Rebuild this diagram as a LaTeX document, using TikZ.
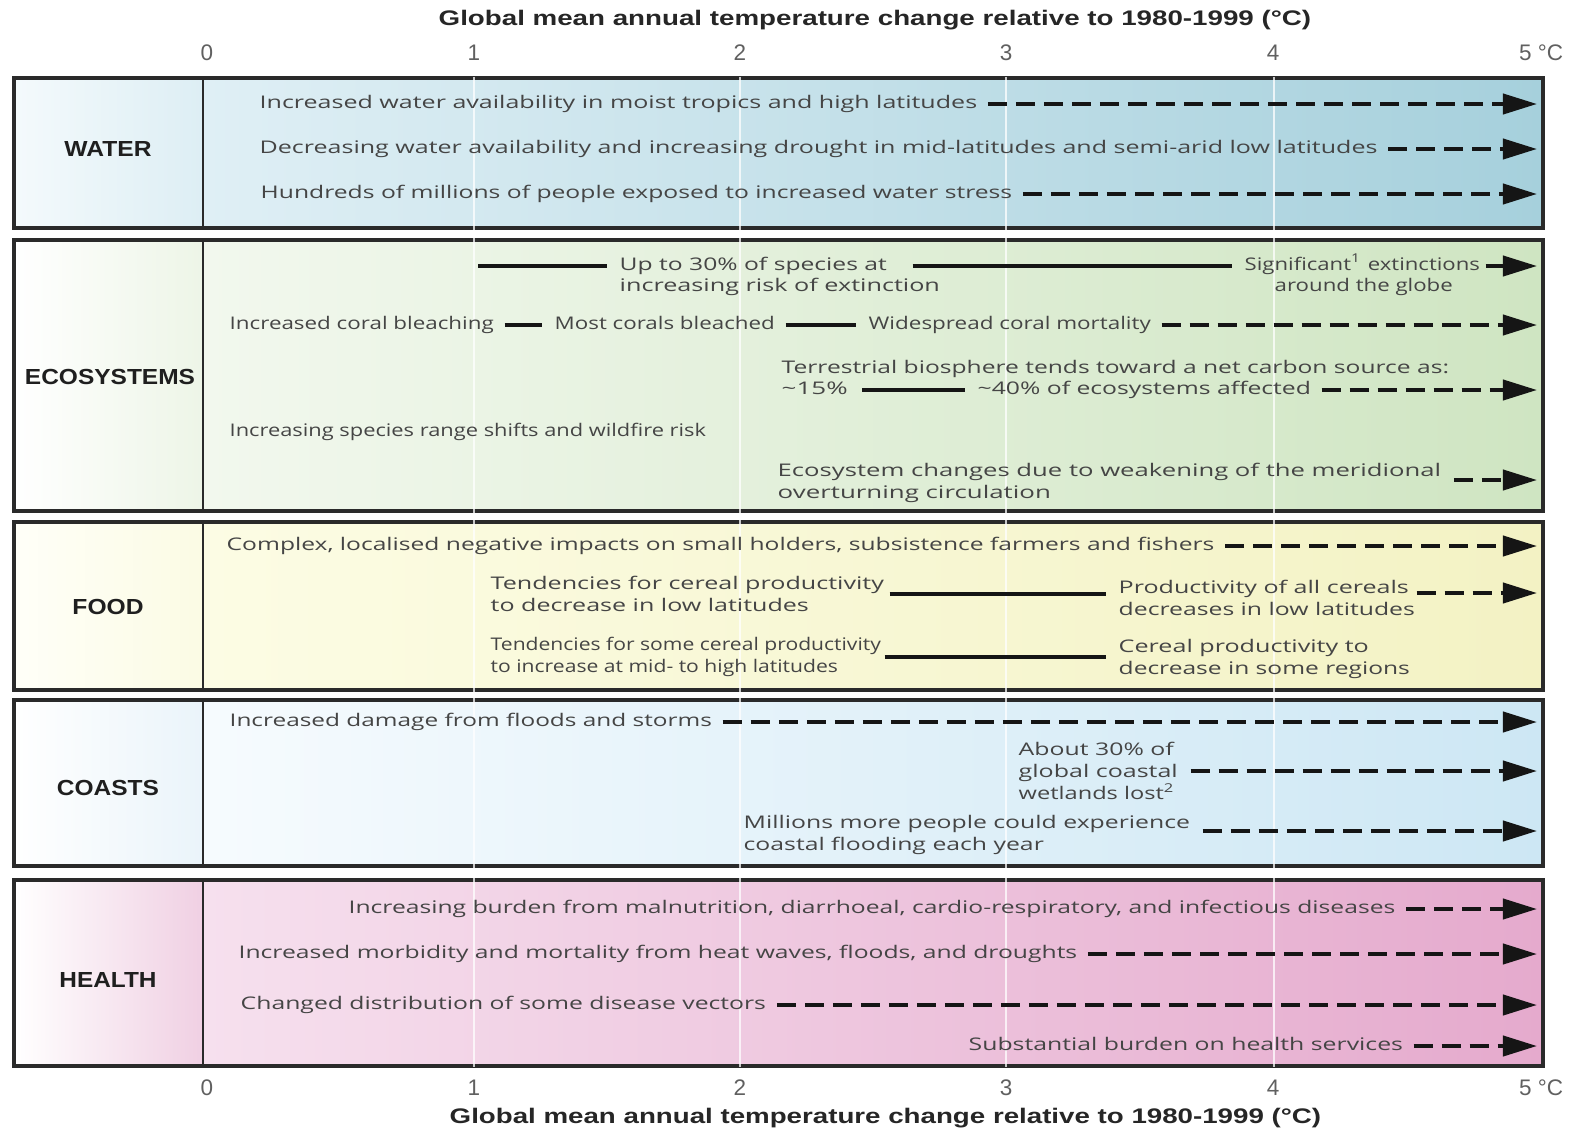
\documentclass[tikz,border=0pt]{standalone}
\usepackage{fontspec}
\usepackage{graphicx}
\setmainfont{Open Sans}
\newfontfamily\labfont{Liberation Sans}
\usetikzlibrary{arrows.meta}
\newcommand\fitw[2]{\resizebox{#1cm}{\height}{#2}}
\newcommand\txtfont{\fontsize{4.95pt}{6.26pt}\selectfont}
\newcommand\tickfont{\labfont\fontsize{6.4pt}{7.4pt}\selectfont}
\newcommand\catfont{\labfont\bfseries\fontsize{6.2pt}{7pt}\selectfont}
\definecolor{txtc}{HTML}{454545}
\definecolor{tickc}{HTML}{606060}
\definecolor{linec}{HTML}{151515}
\definecolor{borderc}{HTML}{2a2a2a}
\definecolor{wA}{HTML}{F4FAFC}\definecolor{wB}{HTML}{DDEEF4}\definecolor{wC}{HTML}{DFEFF5}\definecolor{wD}{HTML}{A6D0DC}
\definecolor{eA}{HTML}{FFFFFF}\definecolor{eB}{HTML}{EDF5E7}\definecolor{eC}{HTML}{F2F8EE}\definecolor{eD}{HTML}{CFE5C2}
\definecolor{fA}{HTML}{FFFFF8}\definecolor{fB}{HTML}{FBFBE4}\definecolor{fC}{HTML}{FCFCE4}\definecolor{fD}{HTML}{F3F2C4}
\definecolor{cA}{HTML}{FFFFFF}\definecolor{cB}{HTML}{EAF4FA}\definecolor{cC}{HTML}{F6FBFE}\definecolor{cD}{HTML}{CDE7F4}
\definecolor{hA}{HTML}{FFFFFF}\definecolor{hB}{HTML}{F0D0E3}\definecolor{hC}{HTML}{F6E0EE}\definecolor{hD}{HTML}{E5AACD}
\begin{document}
\begin{tikzpicture}[x=0.01cm,y=-0.01cm,
  tl/.style={font=\txtfont, text=txtc, inner sep=0pt, anchor=west, text height=0.115cm, text depth=0.035cm},
  tml/.style={font=\txtfont, text=txtc, inner sep=0pt, anchor=west, align=left},
  cat/.style={font=\catfont, text=black!88, inner sep=0pt, anchor=center},
  tick/.style={font=\tickfont, text=tickc, inner sep=0pt, anchor=center},
  ttl/.style={font=\labfont\bfseries\fontsize{6pt}{7pt}\selectfont, text=black!85, inner sep=0pt, anchor=west},
  dl/.style={draw=linec, line width=0.04cm, dash pattern=on 0.19cm off 0.09cm, shorten <=0.1cm, -{Triangle[length=0.34cm,width=0.2cm]}},
  sl/.style={draw=linec, line width=0.04cm, shorten <=0.1cm, shorten >=0.12cm},
  panel/.style={draw=borderc, line width=0.035cm},
  divl/.style={draw=borderc, line width=0.025cm},
  gridl/.style={draw=white, draw opacity=0.75, line width=0.022cm}
]
\useasboundingbox (0,0) rectangle (1575,1133);
\fill[white] (0,0) rectangle (1575,1133);

% ---------- panels ----------
\shade[left color=wA, right color=wB] (14,78) rectangle (203,228);
\shade[left color=wC, right color=wD] (203,78) rectangle (1543,228);
\draw[panel] (14,78) rectangle (1543,228);
\draw[divl] (203,78) -- (203,228);

\shade[left color=eA, right color=eB] (14,240) rectangle (203,511);
\shade[left color=eC, right color=eD] (203,240) rectangle (1543,511);
\draw[panel] (14,240) rectangle (1543,511);
\draw[divl] (203,240) -- (203,511);

\shade[left color=fA, right color=fB] (14,522) rectangle (203,690);
\shade[left color=fC, right color=fD] (203,522) rectangle (1543,690);
\draw[panel] (14,522) rectangle (1543,690);
\draw[divl] (203,522) -- (203,690);

\shade[left color=cA, right color=cB] (14,700) rectangle (203,866);
\shade[left color=cC, right color=cD] (203,700) rectangle (1543,866);
\draw[panel] (14,700) rectangle (1543,866);
\draw[divl] (203,700) -- (203,866);

\shade[left color=hA, right color=hB] (14,880) rectangle (203,1066);
\shade[left color=hC, right color=hD] (203,880) rectangle (1543,1066);
\draw[panel] (14,880) rectangle (1543,1066);
\draw[divl] (203,880) -- (203,1066);

% white grid lines
\foreach \gx in {474,740,1006,1274} \draw[gridl] (\gx,77) -- (\gx,1067);

% ---------- axes ----------
\node[ttl] (ttop) at (438,20) {\fitw{8.72}{Global mean annual temperature change relative to 1980-1999 (°C)}};
\node[ttl] (tbot) at (449,1118) {\fitw{8.71}{Global mean annual temperature change relative to 1980-1999 (°C)}};
\node[tick] (t0) at (207,53) {0};
\node[tick] (t1) at (474,53) {1};
\node[tick] (t2) at (740,53) {2};
\node[tick] (t3) at (1006,53) {3};
\node[tick] (t4) at (1273,53) {4};
\node[tick] (t5) at (1541,53) {5 °C};
\node[tick] (b0) at (207,1088) {0};
\node[tick] (b1) at (474,1088) {1};
\node[tick] (b2) at (740,1088) {2};
\node[tick] (b3) at (1006,1088) {3};
\node[tick] (b4) at (1273,1088) {4};
\node[tick] (b5) at (1541,1088) {5 °C};

% ---------- category labels ----------
\node[cat] (lwater) at (108,149) {\fitw{0.87}{WATER}};
\node[cat] (leco) at (110,377) {\fitw{1.70}{ECOSYSTEMS}};
\node[cat] (lfood) at (108,607) {\fitw{0.71}{FOOD}};
\node[cat] (lcoast) at (108,788) {\fitw{1.02}{COASTS}};
\node[cat] (lhealth) at (108,980) {\fitw{0.97}{HEALTH}};

\coordinate (tipx) at (1537,0);

% ---------- WATER ----------
\node[tl] (w1) at (259,104) {\fitw{7.17}{Increased water availability in moist tropics and high latitudes}};
\node[tl] (w2) at (259,149) {\fitw{11.17}{Decreasing water availability and increasing drought in mid-latitudes and semi-arid low latitudes}};
\node[tl] (w3) at (260,194) {\fitw{7.51}{Hundreds of millions of people exposed to increased water stress}};
\draw[dl] (w1.east) -- (w1.east -| tipx);
\draw[dl] (w2.east) -- (w2.east -| tipx);
\draw[dl] (w3.east) -- (w3.east -| tipx);

% ---------- ECOSYSTEMS ----------
\coordinate (e1s) at (478,266);
\node[tl] (up1) at (619,266) {\fitw{2.67}{Up to 30\% of species at}};
\node[tl] (up2) at (619,287) {\fitw{3.20}{increasing risk of extinction}};
\node[tl] (sig1) at (1244,266) {\fitw{2.35}{Significant\textsuperscript{1} extinctions}};
\node[tl] (sig2) at (1274,287) {\fitw{1.78}{around the globe}};
\draw[sl, shorten <=0pt] (e1s) -- (up1.west);
\draw[sl, shorten <=0.25cm] (up1.east) -- (sig1.west);
\draw[dl, shorten <=0.05cm] (sig1.east) -- (sig1.east -| tipx);

\node[tl] (cb) at (229,325) {\fitw{2.64}{Increased coral bleaching}};
\node[tl] (mcb) at (554,325) {\fitw{2.20}{Most corals bleached}};
\node[tl] (wcm) at (868,325) {\fitw{2.82}{Widespread coral mortality}};
\draw[sl] (cb.east) -- (mcb.west);
\draw[sl] (mcb.east) -- (wcm.west);
\draw[dl] (wcm.east) -- (wcm.east -| tipx);

\node[tl] (tb) at (781,369) {\fitw{6.67}{Terrestrial biosphere tends toward a net carbon source as:}};
\node[tl] (p15) at (781,390) {\fitw{0.66}{\textasciitilde15\%}};
\node[tl] (p40) at (977,390) {\fitw{3.33}{\textasciitilde40\% of ecosystems affected}};
\draw[sl, shorten <=0.14cm] (p15.east) -- (p40.west);
\draw[dl] (p40.east) -- (p40.east -| tipx);

\node[tl] (sr) at (229,432) {\fitw{4.76}{Increasing species range shifts and wildfire risk}};

\node[tml] (ec) at (777,483) {\fitw{6.63}{Ecosystem changes due to weakening of the meridional}\\\fitw{2.73}{overturning circulation}};
\draw[dl, shorten <=0.12cm] ([yshift=0.03cm]ec.east) -- ([yshift=0.03cm]ec.east -| tipx);

% ---------- FOOD ----------
\node[tl] (f1) at (226,546) {\fitw{9.87}{Complex, localised negative impacts on small holders, subsistence farmers and fishers}};
\draw[dl] (f1.east) -- (f1.east -| tipx);

\node[tml] (f2L) at (490,594) {\fitw{3.93}{Tendencies for cereal productivity}\\\fitw{3.18}{to decrease in low latitudes}};
\node[tml] (f2R) at (1118,598) {\fitw{2.90}{Productivity of all cereals}\\\fitw{2.96}{decreases in low latitudes}};
\draw[sl, shorten <=0.05cm] (f2L.east) -- (f2L.east -| f2R.west);
\draw[dl, shorten <=0.01cm] ([yshift=0.05cm]f2R.east) -- ([yshift=0.05cm]f2R.east -| tipx);

\node[tml] (f3L) at (490,657) {\fitw{3.90}{Tendencies for some cereal productivity}\\\fitw{3.47}{to increase at mid- to high latitudes}};
\node[tml] (f3R) at (1118,659) {\fitw{2.50}{Cereal productivity to}\\\fitw{2.91}{decrease in some regions}};
\draw[sl, shorten <=0.03cm] (f3L.east) -- (f3L.east -| f3R.west);

% ---------- COASTS ----------
\node[tl] (c1) at (229,722) {\fitw{4.82}{Increased damage from floods and storms}};
\draw[dl] (c1.east) -- (c1.east -| tipx);

\node[tml] (c2) at (1018,771) {\fitw{1.55}{About 30\% of}\\\fitw{1.59}{global coastal}\\\fitw{1.57}{wetlands lost\textsuperscript{2}}};
\draw[dl, shorten <=0.12cm] (c2.east) -- (c2.east -| tipx);

\node[tml] (c3) at (743,835) {\fitw{4.46}{Millions more people could experience}\\\fitw{3.00}{coastal flooding each year}};
\draw[dl, shorten <=0.12cm] ([yshift=0.04cm]c3.east) -- ([yshift=0.04cm]c3.east -| tipx);

% ---------- HEALTH ----------
\node[tl] (h1) at (348,909) {\fitw{10.46}{Increasing burden from malnutrition, diarrhoeal, cardio-respiratory, and infectious diseases}};
\node[tl] (h2) at (238,954) {\fitw{8.38}{Increased morbidity and mortality from heat waves, floods, and droughts}};
\node[tl] (h3) at (240,1005) {\fitw{5.25}{Changed distribution of some disease vectors}};
\node[tl] (h4) at (968,1046) {\fitw{4.34}{Substantial burden on health services}};
\draw[dl] (h1.east) -- (h1.east -| tipx);
\draw[dl] (h2.east) -- (h2.east -| tipx);
\draw[dl] (h3.east) -- (h3.east -| tipx);
\draw[dl] (h4.east) -- (h4.east -| tipx);
\end{tikzpicture}
\end{document}
